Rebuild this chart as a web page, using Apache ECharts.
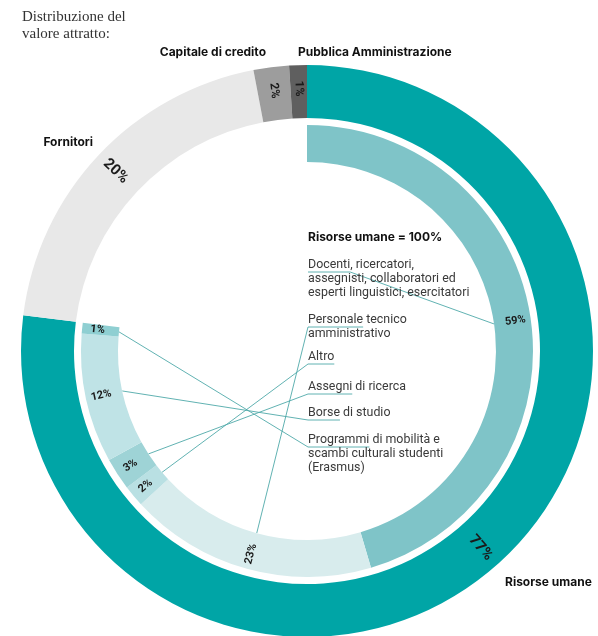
<!DOCTYPE html>
<html><head><meta charset="utf-8">
<script src="https://cdn.jsdelivr.net/npm/echarts@6/dist/echarts.min.js"></script>
<style>html,body{margin:0;padding:0;background:#fff}#c{width:598px;height:636px}</style>
</head><body><div id="c"></div><script>
// ---- data ----
const outerNames = ['Risorse umane', 'Fornitori', 'Capitale di credito', 'Pubblica Amministrazione'];
const outerValues = [77, 20, 2, 1];
const innerNames = [
  'Docenti, ricercatori,\nassegnisti, collaboratori ed\nesperti linguistici, esercitatori',
  'Personale tecnico\namministrativo',
  'Altro',
  'Assegni di ricerca',
  'Borse di studio',
  'Programmi di mobilità e\nscambi culturali studenti\n(Erasmus)'
];
const innerValues = [59, 23, 2, 3, 12, 1];
const titleText = 'Distribuzione del\nvalore attratto:';
const innerTitle = 'Risorse umane = 100%';

// ---- layout / style ----
const CENTER = [307, 351];
const outerColors = ['#00a5a6', '#e8e8e8', '#9d9d9d', '#5f5f5f'];
const innerColors = ['#7fc4c8', '#d8eced', '#b9e0e3', '#9ed3d6', '#bfe3e6', '#8fcfd2'];
const namePos = [
  {x: 505, y: 582, align: 'left'},
  {x: 93, y: 142, align: 'right'},
  {x: 266, y: 52, align: 'right'},
  {x: 298, y: 52, align: 'left'}
];
const legendX = 308;
const legendTop = [258, 313, 350, 380, 406, 433];
const LEG_SIZE = 12.4;
const LEG_FONT = LEG_SIZE + 'px Roboto';
const LINE_H = 14;

const ctx = document.createElement('canvas').getContext('2d');
ctx.font = LEG_FONT;
function firstWordWidth(s) { return ctx.measureText(s.split(/[\s,]/)[0]).width; }

const outerTotal = outerValues.reduce((a, b) => a + b, 0);
const innerEnd = 90 - 360 * outerValues[0] / outerTotal;

const chart = echarts.init(document.getElementById('c'), null, {renderer: 'canvas'});
chart.setOption({
  animation: false,
  backgroundColor: '#fff',
  title: [
    {text: titleText, left: 22, top: 9, padding: 0,
     textStyle: {fontFamily: 'Liberation Serif', fontSize: 15, fontWeight: 'normal', lineHeight: 17, color: '#333'}},
    {text: innerTitle, left: legendX, top: 231, padding: 0,
     textStyle: {fontFamily: 'Inter', fontSize: 12, fontWeight: 'bold', color: '#111'}}
  ],
  series: [
    // outer ring with percentages
    {
      type: 'pie', center: CENTER, radius: [233, 286], startAngle: 90, clockwise: true,
      silent: true, avoidLabelOverlap: false,
      data: outerNames.map((n, i) => ({name: n, value: outerValues[i], itemStyle: {color: outerColors[i]}})),
      label: {
        show: true, position: 'inside', rotate: 'radial',
        formatter: p => (p.value >= 10 ? '{big|' : '{small|') + p.value + '%}',
        rich: {
          big: {fontFamily: 'Roboto', fontSize: 15, fontWeight: 'bold', color: '#1a1a1a'},
          small: {fontFamily: 'Roboto', fontSize: 12, fontWeight: 'bold', color: '#1a1a1a'}
        }
      },
      labelLine: {show: false}
    },
    // outer ring category names
    {
      type: 'pie', center: CENTER, radius: [233, 286], startAngle: 90, clockwise: true,
      silent: true, avoidLabelOverlap: false,
      itemStyle: {color: 'rgba(0,0,0,0)'},
      data: outerNames.map((n, i) => ({name: n, value: outerValues[i]})),
      label: {show: true, position: 'outside', formatter: '{b}',
        fontFamily: 'Inter', fontSize: 12, fontWeight: 'bold', color: '#111'},
      labelLine: {show: false},
      labelLayout: p => ({x: namePos[p.dataIndex].x, y: namePos[p.dataIndex].y,
        align: namePos[p.dataIndex].align, verticalAlign: 'middle'})
    },
    // inner ring with percentages
    {
      type: 'pie', center: CENTER, radius: [189, 226], startAngle: 90, endAngle: innerEnd, clockwise: true,
      silent: true, avoidLabelOverlap: false,
      data: innerNames.map((n, i) => ({name: n, value: innerValues[i], itemStyle: {color: innerColors[i]}})),
      label: {show: true, position: 'inside', rotate: 'radial', formatter: p => p.value + '%',
        fontFamily: 'Roboto', fontSize: 11, fontWeight: 'bold', color: '#1a1a1a'},
      labelLine: {show: false}
    },
    // inner legend texts with leader lines
    {
      type: 'pie', center: CENTER, radius: [150, 189], startAngle: 90, endAngle: innerEnd, clockwise: true,
      silent: true, avoidLabelOverlap: false,
      itemStyle: {color: 'rgba(0,0,0,0)'},
      data: innerNames.map((n, i) => ({name: n, value: innerValues[i]})),
      label: {show: true, position: 'outside', formatter: '{b}',
        fontFamily: 'Roboto', fontSize: LEG_SIZE, lineHeight: LINE_H, color: '#3a3a3a'},
      labelLine: {show: true, length: 10, length2: 10, lineStyle: {color: '#4fa9a9', width: 0.9}},
      labelLayout: function (p) {
        const i = p.dataIndex;
        const top = legendTop[i];
        const yU = top + LINE_H;
        const w = firstWordWidth(innerNames[i]);
        const xs = legendX, xe = legendX + w;
        const p0 = p.labelLinePoints ? p.labelLinePoints[0] : [xs, yU];
        const pts = p0[0] > xe ? [p0, [xe, yU], [xs, yU]] : [p0, [xs, yU], [xe, yU]];
        return {x: legendX, y: top, align: 'left', verticalAlign: 'top', labelLinePoints: pts};
      }
    }
  ]
});
</script></body></html>
